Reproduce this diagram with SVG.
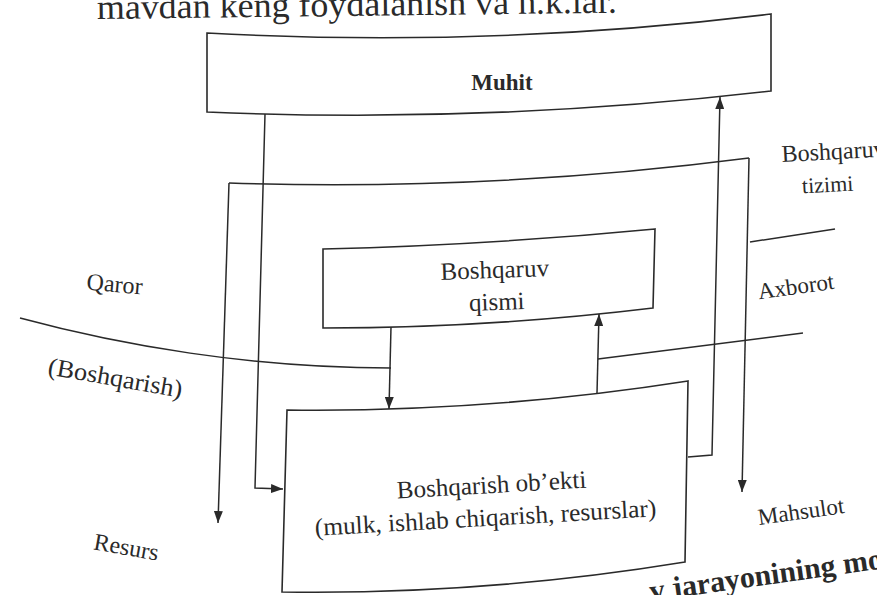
<svg xmlns="http://www.w3.org/2000/svg" width="877" height="595" viewBox="0 0 877 595">
<defs>
<style>
.box{fill:none;stroke:#2a2a2a;stroke-width:1.6;stroke-linejoin:miter}
.ln{fill:none;stroke:#2a2a2a;stroke-width:1.5}
.t{font-family:"Liberation Serif","Times New Roman",serif;fill:#2a2a2a}
.b{font-weight:bold}
</style>
<marker id="ah" viewBox="0 0 10 10" refX="10" refY="5" markerWidth="12" markerHeight="9" markerUnits="userSpaceOnUse" orient="auto" preserveAspectRatio="none">
<path d="M0,0 L10,5 L0,10 z" fill="#2a2a2a"/>
</marker>
</defs>
<rect width="877" height="595" fill="#ffffff"/>

<g id="header">
<text class="t" x="97" y="19" font-size="35" textLength="520" lengthAdjust="spacingAndGlyphs" transform="rotate(-0.7 97 19)">mavdan keng foydalanish va h.k.lar.</text>
</g>

<g id="node-muhit">
<path class="box" d="M207,33 Q489,48.5 771,14 L771,91 Q489,124 207,112 Z"/>
<text class="t b" x="502" y="90" text-anchor="middle" font-size="23">Muhit</text>
</g>

<g id="node-tizimi">
<path class="ln" d="M229,183 Q489,191.5 749,158"/>
<text class="t" x="782" y="162" font-size="24" transform="rotate(-3 782 162)">Boshqaruv</text>
<text class="t" x="828" y="192" font-size="22" text-anchor="middle" transform="rotate(-3 828 192)">tizimi</text>
</g>

<g id="node-qismi">
<path class="box" d="M323,249 Q489,245 655,229 L653,308 Q488,328 323,328 Z"/>
<text class="t" x="495" y="278" font-size="25" text-anchor="middle" transform="rotate(-2 495 278)">Boshqaruv</text>
<text class="t" x="497" y="310" font-size="25" text-anchor="middle" transform="rotate(-2 497 310)">qismi</text>
</g>

<g id="node-obekt">
<path class="box" d="M287,410 Q487,412.5 688,381 L685,562 Q483,595 282,592 Z"/>
<text class="t" x="492" y="493" font-size="25" text-anchor="middle" transform="rotate(-3.3 492 493)">Boshqarish ob’ekti</text>
<text class="t" x="486" y="526" font-size="25" text-anchor="middle" textLength="342" lengthAdjust="spacingAndGlyphs" transform="rotate(-3.3 486 526)">(mulk, ishlab chiqarish, resurslar)</text>
</g>

<g id="connectors">
<path class="ln" d="M265,114 L255,488 L283,489" marker-end="url(#ah)"/>
<path class="ln" d="M229,183 L218,523" marker-end="url(#ah)"/>
<path class="ln" d="M749,158 L742,492" marker-end="url(#ah)"/>
<path class="ln" d="M688,457 L712,455 L720,97" marker-end="url(#ah)"/>
<path class="ln" d="M391,327 L389,409" marker-end="url(#ah)"/>
<path class="ln" d="M597,393 L599,314" marker-end="url(#ah)"/>
<path class="ln" d="M20,318 C120,345 250,368 391,368"/>
<path class="ln" d="M598,359 L803,333"/>
<path class="ln" d="M750,242 L835,229"/>
</g>

<g id="labels">
<text class="t" x="114" y="292" font-size="24" text-anchor="middle" transform="rotate(5 114 292)">Qaror</text>
<text class="t" x="114" y="386" font-size="25" text-anchor="middle" textLength="136" lengthAdjust="spacingAndGlyphs" transform="rotate(10 114 386)">(Boshqarish)</text>
<text class="t" x="125" y="555" font-size="24" text-anchor="middle" transform="rotate(10 125 555)">Resurs</text>
<text class="t" x="797" y="294" font-size="23" text-anchor="middle" transform="rotate(-8 797 294)">Axborot</text>
<text class="t" x="802" y="519" font-size="23" text-anchor="middle" transform="rotate(-8 802 519)">Mahsulot</text>
<text class="t b" x="651" y="601" font-size="30" transform="rotate(-8 651 601)">v jarayonining mo</text>
</g>
</svg>
